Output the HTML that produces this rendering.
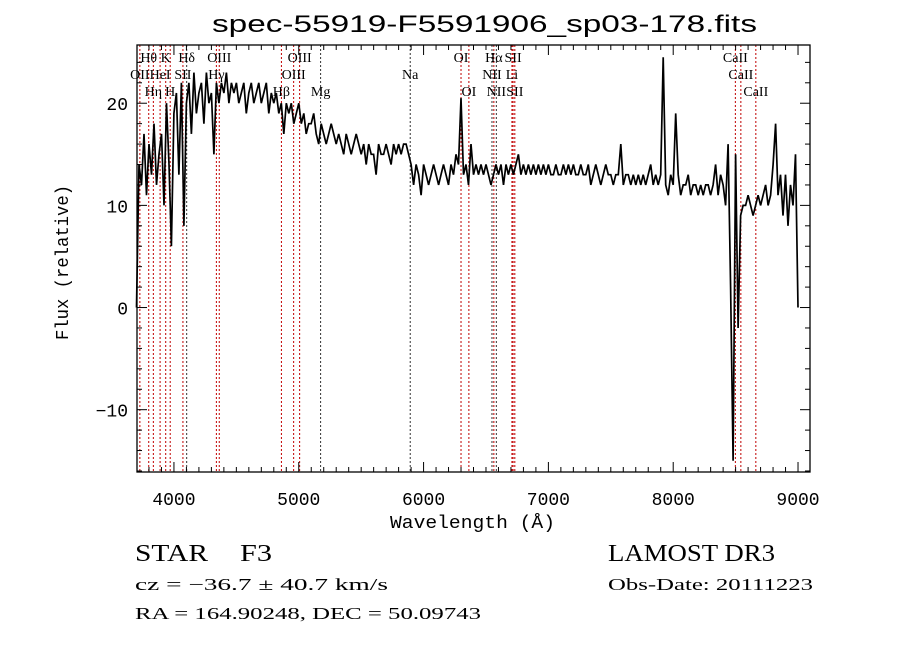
<!DOCTYPE html>
<html><head><meta charset="utf-8"><style>
html,body{margin:0;padding:0;background:#fff;}
svg{display:block;}
text{font-family:"Liberation Sans",sans-serif;fill:#000;}
.mono{font-family:"Liberation Mono",monospace;}
.ser{font-family:"Liberation Serif",serif;}
</style></head><body>
<svg id="chart" width="900" height="649" viewBox="0 0 900 649" xmlns="http://www.w3.org/2000/svg">
<rect x="0" y="0" width="900" height="649" fill="#fff"/>
<text x="212" y="32" font-size="24" textLength="545" lengthAdjust="spacingAndGlyphs">spec-55919-F5591906_sp03-178.fits</text>
<g id="lines"></g>
<g id="labels"></g>
<g id="spec"></g>
<g id="axes"></g>
<text class="mono" x="390" y="528" font-size="18" textLength="165" lengthAdjust="spacingAndGlyphs">Wavelength (Å)</text>
<text class="mono" font-size="18" transform="translate(68,340) rotate(-90)" textLength="155" lengthAdjust="spacingAndGlyphs">Flux (relative)</text>
<text class="ser" x="135" y="561" font-size="24" textLength="73" lengthAdjust="spacingAndGlyphs">STAR</text>
<text class="ser" x="240" y="561" font-size="24" textLength="32" lengthAdjust="spacingAndGlyphs">F3</text>
<text class="ser" x="608" y="561" font-size="24" textLength="167" lengthAdjust="spacingAndGlyphs">LAMOST DR3</text>
<text class="ser" x="135" y="590" font-size="17" textLength="253" lengthAdjust="spacingAndGlyphs">cz = −36.7 ± 40.7 km/s</text>
<text class="ser" x="608" y="590" font-size="17" textLength="205" lengthAdjust="spacingAndGlyphs">Obs-Date: 20111223</text>
<text class="ser" x="135" y="619" font-size="17" textLength="346" lengthAdjust="spacingAndGlyphs">RA = 164.90248, DEC =  50.09743</text>
</svg>
<script>
const waveStart = 3700;
const waveStep = 20;
const flux = [
0,14,12,17,11,16,13,18,12,15,
17,10,20,14,6,19,21,13,22,8,
20,22,17,23,19,21,22,18,23,20,
21,15,22,20,22,21,23,20,22,21,
22,20,21,22,19,21,22,20,21,22,
20,21,22,19,21,20,21,19,20,17,
20,19,20,18,19,20,18,19,17,18,
18,19,17,16,18,17,16,17,18,17,
16,17,16,15,17,16,15,16,17,16,
15,16,14,16,15,15,13,16,15,15,
16,15,14,16,15,16,15,16,16,15,
14,12,14,13,11,14,13,12,13,14,
13,12,13,14,13,12,14,13,15,14,
20.5,13,14,12,16,13,14,13,14,13,
14,13,12,13,14,13,14,12,14,13,
14,13,14,15,13,14,13,14,13,14,
13,14,13,14,13,14,13,13,14,13,
13,14,13,14,13,14,13,13,14,13,
13,14,12,13,14,13,12,13,14,13,
13,12,13,13,16,12,13,13,12,13,
12,13,12,13,12,13,14,12,13,12,
13,24.5,12,11,13,12,19,13,11,12,
12,13,11,12,12,11,12,11,12,12,
11,12,14,11,13,12,10,16,2,-15,
15,-2,9,10,10,11,10,9,10,11,
10,11,12,10,11,14,18,11,13,9,
13,8,12,10,15,0];
const lineWaves = [3727,3798,3835,3889,3934,3970,4072,4102,4340,4363,4861,4959,5007,5175,5893,6300,6363,6548,6563,6583,6708,6717,6731,8498,8542,8662];
const lineNames = ["OII","Hθ","Hη","HeI","K","H","SII","Hδ","Hγ","OIII","Hβ","OIII","OIII","Mg","Na","OI","OI","NII","Hα","NII","Li","SII","SII","CaII","CaII","CaII"];
const lineRows = [2,1,3,2,1,3,2,1,2,1,3,2,1,3,2,1,3,2,1,3,2,1,3,1,2,3];
const lineBlack = [0,0,0,0,0,0,0,1,0,0,0,0,0,1,1,0,0,1,0,1,0,0,0,0,0,0];
const xTicks = [4000,5000,6000,7000,8000,9000];
const yTicks = [-10,0,10,20];

const L=137,R=810,T=45,B=472, xmin=3704, xmax=9096, ymin=-16.1, ymax=25.7;
const xs=w=>L+(w-xmin)/(xmax-xmin)*(R-L);
const ys=v=>B-(v-ymin)/(ymax-ymin)*(B-T);
const NS="http://www.w3.org/2000/svg";
function mk(tag,parent,attrs){const e=document.createElementNS(NS,tag);for(const k in attrs)e.setAttribute(k,attrs[k]);parent.appendChild(e);return e;}

const gl=document.getElementById('lines'), glab=document.getElementById('labels');
const rowY=[0,62,79,96];
lineWaves.forEach((w,i)=>{
  const x=xs(w);
  const ln=mk('line',gl,{x1:x,x2:x,y1:T,y2:B,stroke:lineBlack[i]?'#333':'#c00000','stroke-width':1,'stroke-dasharray':'2,2'});
  
  
  const t=mk('text',glab,{x:x,y:rowY[lineRows[i]],'font-size':14,'text-anchor':'middle',class:'ser'});
  t.textContent=lineNames[i];
  
  
});

const gs=document.getElementById('spec');
let d='';
flux.forEach((v,i)=>{d+=(i?'L':'M')+xs(waveStart+i*waveStep).toFixed(1)+','+ys(v).toFixed(1);});
const p=mk('path',gs,{d:d,fill:'none',stroke:'#000','stroke-width':1.7,'stroke-linejoin':'miter'});



const ga=document.getElementById('axes');
const box=mk('rect',ga,{x:L,y:T,width:R-L,height:B-T,fill:'none',stroke:'#000','stroke-width':1.3});


for(let w=3800;w<=9000;w+=100){
  const x=xs(w), len=(w%1000===0)?10:5;
  mk('line',ga,{x1:x,x2:x,y1:B,y2:B-len,stroke:'#000'});
  mk('line',ga,{x1:x,x2:x,y1:T,y2:T+len,stroke:'#000'});
}
for(let v=-16;v<=24;v+=2){
  const y=ys(v), len=(v%10===0)?10:5;
  mk('line',ga,{x1:L,x2:L+len,y1:y,y2:y,stroke:'#000'});
  mk('line',ga,{x1:R,x2:R-len,y1:y,y2:y,stroke:'#000'});
}
xTicks.forEach(w=>{
  const t=mk('text',ga,{x:xs(w),y:505,'font-size':18,'text-anchor':'middle',class:'mono'});
  t.textContent=w;
  
  
});
yTicks.forEach(v=>{
  const t=mk('text',ga,{x:128,y:ys(v)+7,'font-size':18,'text-anchor':'end',class:'mono'});
  t.textContent=v<0?'−'+(-v):v;
  
  
});
</script>
</body></html>
